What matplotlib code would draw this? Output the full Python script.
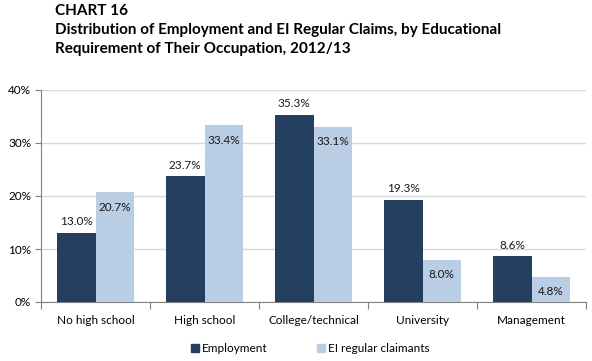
import matplotlib
matplotlib.use("Agg")
import matplotlib.pyplot as plt
import numpy as np
from matplotlib.lines import Line2D

categories = ["No high school", "High school", "College/technical", "University", "Management"]
employment = [13.0, 23.7, 35.3, 19.3, 8.6]
ei_claimants = [20.7, 33.4, 33.1, 8.0, 4.8]
series_names = ["Employment", "EI regular claimants"]
yticks = [0, 10, 20, 30, 40]

c_emp = "#243F5F"
c_ei = "#B9CDE5"
font = ["Lato", "DejaVu Sans"]
plt.rcParams['font.family'] = font

W, H = 592, 361
fig = plt.figure(figsize=(W/100, H/100), dpi=100)
ax = fig.add_axes([41/W, 1-302/H, (586-41)/W, (302-90)/H])

x = np.arange(len(categories))
bw = 0.353
ax.bar(x - bw/2, employment, bw, color=c_emp, zorder=3)
ax.bar(x + bw/2, ei_claimants, bw, color=c_ei, zorder=3)

for xi, v in zip(x, employment):
    ax.annotate(f"{v:.1f}%", (xi - bw/2, v), xytext=(0, 8), textcoords="offset points",
                ha="center", va="center", fontsize=8.5, color="#1a1a1a")
for xi, v in zip(x, ei_claimants):
    ax.annotate(f"{v:.1f}%", (xi + bw/2, v), xytext=(0, -11), textcoords="offset points",
                ha="center", va="center", fontsize=8.5, color="#1a1a1a")

ax.set_xlim(-0.5, len(categories) - 0.5)
ax.set_ylim(0, 40)
ax.set_yticks(yticks)
ax.set_yticklabels([f"{t}%" for t in yticks], fontsize=8.5)
ax.yaxis.grid(True, color="#D9D9D9", linewidth=1, zorder=0)
ax.set_axisbelow(True)
ax.set_xticks(np.arange(-0.5, len(categories), 1.0))
ax.set_xticklabels([])
ax.set_xticks(x, minor=True)
ax.set_xticklabels(categories, minor=True, fontsize=8.5)
ax.tick_params(axis="x", which="minor", length=0, pad=9)
ax.tick_params(axis="x", which="major", length=5, color="#808080", direction="out")
ax.tick_params(axis="y", length=4, color="#808080", pad=3)
for s in ["top", "right"]:
    ax.spines[s].set_visible(False)
for s in ["left", "bottom"]:
    ax.spines[s].set_color("#808080")

tfs = 11
fig.text(55/W, 1-11/H, "CHART 16", fontsize=tfs, fontweight="bold", va="center", ha="left")
fig.text(55/W, 1-30/H, "Distribution of Employment and EI Regular Claims, by Educational",
         fontsize=tfs, fontweight="bold", va="center", ha="left")
fig.text(55/W, 1-49/H, "Requirement of Their Occupation, 2012/13",
         fontsize=tfs, fontweight="bold", va="center", ha="left")

handles = [Line2D([], [], marker="s", linestyle="none", color=c_emp, markersize=6),
           Line2D([], [], marker="s", linestyle="none", color=c_ei, markersize=6)]
fig.legend(handles, series_names, loc="center", bbox_to_anchor=(309/W, 1-349/H), ncol=2,
           frameon=False, fontsize=8.5, handletextpad=0.1, columnspacing=4.0, handlelength=1)

fig.savefig("out.png", dpi=100)
